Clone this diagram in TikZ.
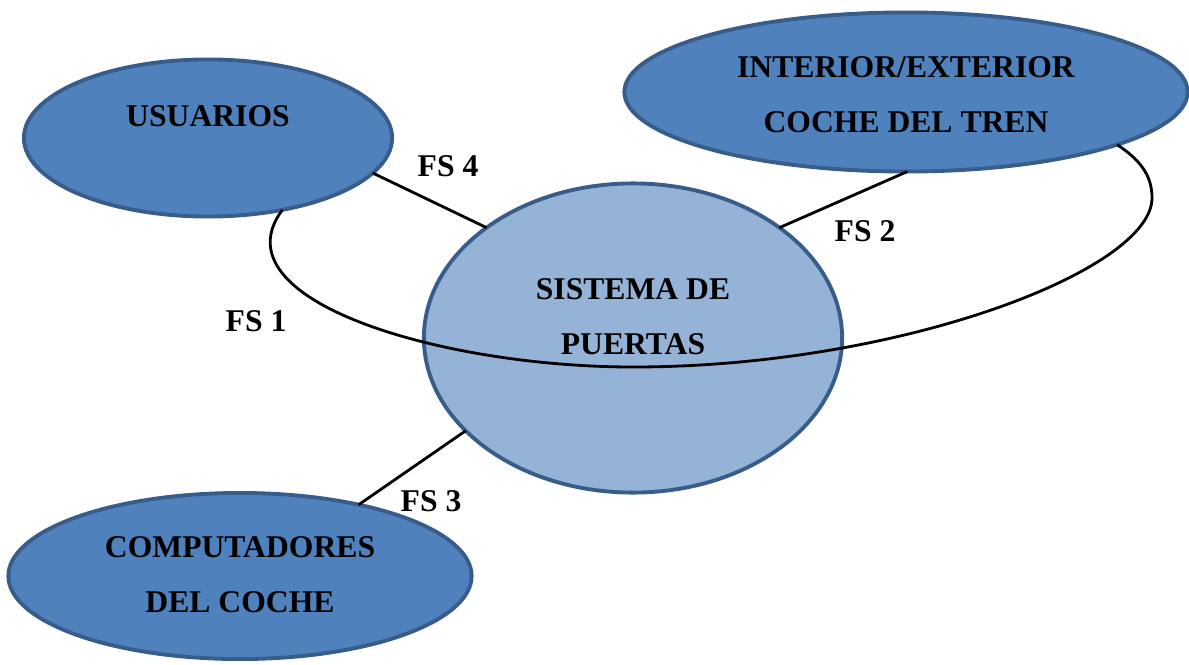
\documentclass[tikz,border=0pt]{standalone}
\usepackage{fontspec}
\setmainfont{Liberation Serif}
\usepackage{tikz}
\usetikzlibrary{shapes.geometric}

\definecolor{darkblue}{HTML}{4F81BD}
\definecolor{lightblue}{HTML}{95B3D7}
\definecolor{rimblue}{HTML}{385D8A}

\tikzset{
  blob/.style={shape=ellipse,draw=rimblue,line width=1.1pt,fill=darkblue,inner sep=0pt,outer sep=0pt},
  core/.style={blob,fill=lightblue},
  txt/.style={font=\bfseries\fontsize{9}{15.6}\selectfont,align=center,inner sep=0pt},
  link/.style={draw=black,line width=0.8pt}
}

\begin{document}
\begin{tikzpicture}[x=0.01cm,y=-0.01cm]
        	\useasboundingbox (0,0) rectangle (1189,664);

        	\node[blob,minimum width=3.68cm,minimum height=1.57cm] (usu) at (208, 138) {};
        	\node[blob,minimum width=5.63cm,minimum height=1.59cm] (inter) at (906, 92) {};
        	\node[blob,minimum width=4.63cm,minimum height=1.66cm] (comp) at (240, 576) {};
        	\node[core,minimum width=4.18cm,minimum height=3.09cm] (sis) at (633, 338) {};

        	\node[txt] (usu-t) at (208, 116) {USUARIOS};
        	\node[txt] (inter-t) at (906, 95) {INTERIOR/EXTERIOR\\COCHE DEL TREN};
        	\node[txt] (comp-t) at (240, 575) {COMPUTADORES\\DEL COCHE};
        	\node[txt] (sis-t) at (633, 317) {SISTEMA DE\\PUERTAS};

        	\node[txt] (fs1) at (256, 321) {FS 1};
        	\node[txt] (fs2) at (865, 231) {FS 2};
        	\node[txt] (fs3) at (431, 501) {FS 3};
        	\node[txt] (fs4) at (448, 166) {FS 4};

        	\path[link] (usu.-44) .. controls (215, 300) and (440, 367) .. (633, 367)
        	  .. controls (900, 367) and (1152, 270) .. (1152, 198)
        	  .. controls (1152, 175) and (1140, 160) .. (inter.-14);
        	\path[link] (usu.-12) edge (sis.143);
        	\path[link] (inter.-89) edge (sis.37);
        	\path[link] (sis.209) edge (comp.31);

\end{tikzpicture}
\end{document}
